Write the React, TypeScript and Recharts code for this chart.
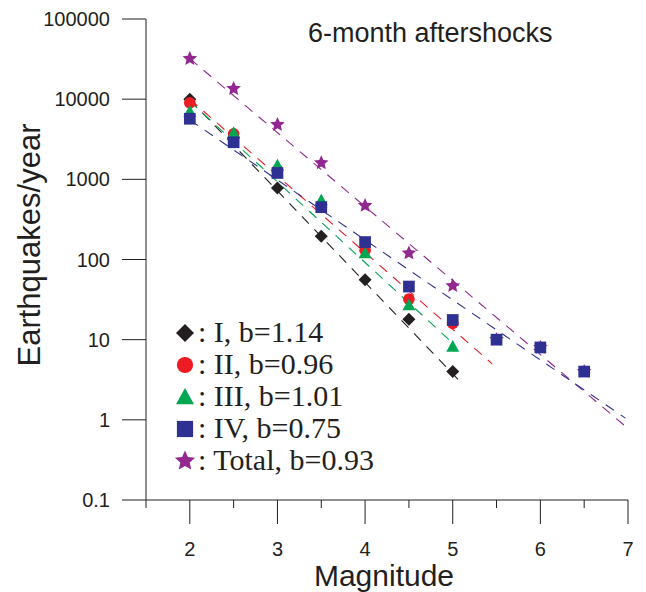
import { ScatterChart, Scatter, XAxis, YAxis } from "recharts";

const magnitudes = [2, 2.5, 3, 3.5, 4, 4.5, 5, 5.5, 6, 6.5];
const rateI = [10000, 3300, 780, 195, 56, 18, 4];
const rateII = [9000, 3700, 1300, 450, 130, 32, 16];
const rateIII = [7000, 3800, 1500, 550, 120, 27, 8.2];
const rateIV = [5700, 2900, 1200, 450, 165, 46, 17.6, 10, 8, 4];
const rateTotal = [32000, 13500, 4800, 1600, 470, 120, 47, 10, 8, 4];

// dashed fit lines: start / end points
const fitI = [[2, 9900], [5.06, 3.2]];
const fitII = [[2, 10000], [5.45, 5]];
const fitIII = [[2, 9400], [4.97, 9.7]];
const fitIV = [[2, 5500], [6.97, 1.05]];
const fitTotal = [[2, 32000], [7.0, 0.78]];

const xTicks = [1.5, 2, 2.5, 3, 3.5, 4, 4.5, 5, 5.5, 6, 6.5, 7];
const yTicks = [0.1, 1, 10, 100, 1000, 10000, 100000];
const yTickLabels = ["0.1", "1", "10", "100", "1000", "10000", "100000"];

const ink = "#231f20";
const sans = "'Liberation Sans', Arial, sans-serif";
const serif = "'Liberation Serif', 'Times New Roman', serif";

const toPoints = (vals: number[]) => vals.map((n, i) => ({ m: magnitudes[i], n }));
const toLine = (pts: number[][]) => pts.map(([m, n]) => ({ m, n }));

type Kind = "diamond" | "circle" | "triangle" | "square" | "star";

function marker(kind: Kind, cx: number, cy: number, fill: string, s: number) {
  if (kind === "diamond")
    return <polygon points={`${cx},${cy - s} ${cx + s},${cy} ${cx},${cy + s} ${cx - s},${cy}`} fill={fill} />;
  if (kind === "circle") return <circle cx={cx} cy={cy} r={s * 0.9} fill={fill} />;
  if (kind === "triangle")
    return <polygon points={`${cx},${cy - s} ${cx + s},${cy + s * 0.8} ${cx - s},${cy + s * 0.8}`} fill={fill} />;
  if (kind === "square") return <rect x={cx - s * 0.9} y={cy - s * 0.9} width={s * 1.8} height={s * 1.8} fill={fill} />;
  const pts: string[] = [];
  for (let k = 0; k < 10; k++) {
    const r = k % 2 === 0 ? s * 1.18 : s * 0.55;
    const a = -Math.PI / 2 + (k * Math.PI) / 5;
    pts.push(`${cx + r * Math.cos(a)},${cy + r * Math.sin(a)}`);
  }
  return <polygon points={pts.join(" ")} fill={fill} />;
}

const series = [
  { name: "Total", label: ": Total, b=0.93", color: "#92278f", kind: "star" as Kind, data: rateTotal, fit: fitTotal },
  { name: "I", label: ": I, b=1.14", color: ink, kind: "diamond" as Kind, data: rateI, fit: fitI },
  { name: "II", label: ": II, b=0.96", color: "#ed1c24", kind: "circle" as Kind, data: rateII, fit: fitII },
  { name: "III", label: ": III, b=1.01", color: "#00a651", kind: "triangle" as Kind, data: rateIII, fit: fitIII },
  { name: "IV", label: ": IV, b=0.75", color: "#2e3192", kind: "square" as Kind, data: rateIV, fit: fitIV },
];
const legendOrder = ["I", "II", "III", "IV", "Total"];

const XTick = (props: any) => {
  const { x, y, payload } = props;
  const major = Number.isInteger(payload.value);
  return (
    <g>
      <line x1={x} x2={x} y1={y} y2={y + (major ? 24 : 8)} stroke={ink} />
      {major && (
        <text x={x} y={y + 56} textAnchor="middle" fontSize={20} fontFamily={sans} fill={ink}>
          {payload.value}
        </text>
      )}
    </g>
  );
};

const YTick = (props: any) => {
  const { x, y, payload } = props;
  const i = yTicks.indexOf(payload.value);
  return (
    <g>
      <line x1={x - 24} x2={x} y1={y} y2={y} stroke={ink} />
      <text x={x - 36} y={y + 7} textAnchor="end" fontSize={20} fontFamily={sans} fill={ink}>
        {yTickLabels[i]}
      </text>
    </g>
  );
};

export default function App() {
  return (
    <div style={{ position: "absolute", left: 0, top: 0, width: 646, height: 592, background: "#fff" }}>
      <ScatterChart width={646} height={592} margin={{ top: 19, right: 18, bottom: 0, left: 0 }}>
        <XAxis
          dataKey="m"
          type="number"
          domain={[1.5, 7]}
          ticks={xTicks}
          interval={0}
          height={92}
          tickSize={0}
          tickMargin={0}
          tickLine={false}
          tick={<XTick />}
          axisLine={{ stroke: ink }}
          allowDataOverflow
        />
        <YAxis
          dataKey="n"
          type="number"
          scale="log"
          domain={[0.1, 100000]}
          ticks={yTicks}
          interval={0}
          width={146}
          tickSize={0}
          tickMargin={0}
          tickLine={false}
          tick={<YTick />}
          axisLine={{ stroke: ink }}
          allowDataOverflow
        />
        {series.map((s) => (
          <Scatter
            key={s.name + "-fit"}
            data={toLine(s.fit)}
            line={{ stroke: s.color, strokeWidth: 1.1, strokeDasharray: "10 8" }}
            shape={() => <g />}
            isAnimationActive={false}
          />
        ))}
        {series.map((s) => (
          <Scatter
            key={s.name}
            name={s.name}
            data={toPoints(s.data)}
            shape={(p: any) => marker(s.kind, p.cx, p.cy, s.color, 6.5)}
            isAnimationActive={false}
          />
        ))}
      </ScatterChart>

      <svg width={646} height={592} style={{ position: "absolute", left: 0, top: 0, pointerEvents: "none" }}>
        <text x={308} y={42} fontSize={27} fontFamily={sans} fill={ink}>
          6-month aftershocks
        </text>
        <text x={384} y={586} textAnchor="middle" fontSize={30} fontFamily={sans} fill={ink}>
          Magnitude
        </text>
        <text x={40} y={245} transform="rotate(-90 40 245)" textAnchor="middle" fontSize={31} fontFamily={sans} fill={ink}>
          Earthquakes/year
        </text>
      </svg>

      <div style={{ position: "absolute", left: 172, top: 316 }}>
        {legendOrder.map((name) => {
          const s = series.find((q) => q.name === name)!;
          return (
            <div key={name} style={{ display: "flex", height: 32, alignItems: "flex-start" }}>
              <svg width={26} height={32}>
                {marker(s.kind, 13, 17, s.color, 9)}
              </svg>
              <span style={{ fontFamily: serif, fontSize: 30, lineHeight: "32px", color: ink, whiteSpace: "nowrap" }}>
                {s.label}
              </span>
            </div>
          );
        })}
      </div>
    </div>
  );
}
